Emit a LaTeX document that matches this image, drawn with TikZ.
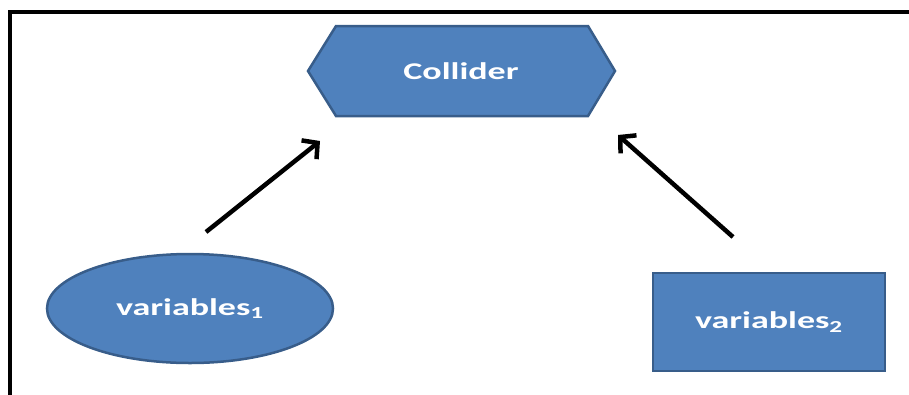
\documentclass[tikz,border=0pt]{standalone}
\usepackage{fontspec}
\setmainfont{Carlito}
\usetikzlibrary{shapes.geometric,arrows.meta}
\definecolor{boxblue}{HTML}{4F81BD}
\definecolor{boxedge}{HTML}{385D8A}
\tikzset{
	blueshape/.style={fill=boxblue, draw=boxedge, line width=2.5pt, text=white, font=\fontsize{24}{28}\selectfont\bfseries},
	link/.style={line width=4.5pt, -{Straight Barb[length=11pt, width=24pt, line width=4.5pt]}}
}
\newcommand{\wide}[1]{\scalebox{1.5}[1]{#1}}

\begin{document}
\begin{tikzpicture}[x=1pt, y=-1pt]
		%%%%% START %%%%%
		
		\useasboundingbox (0, 0) rectangle (909, 394);
		\draw[line width=4pt] (10, 400) -- (10, 12) -- (920, 12);
		
		\draw[blueshape] (308, 71) -- (336, 26) -- (588, 26) -- (615, 71) -- (588, 116) -- (336, 116) -- cycle;
		\node[text=white, font=\fontsize{24}{28}\selectfont\bfseries] (collider) at (461, 71) {\wide{Collider}};
		
		\node[blueshape, ellipse, minimum width=286, minimum height=109, inner sep=0pt] (var1) at (190, 308.5) {\wide{variables\textsubscript{1}}};
		\node[blueshape, rectangle, minimum width=232, minimum height=98, inner sep=0pt] (var2) at (769, 322) {\wide{variables\textsubscript{2}}};
		
		\coordinate (tail1) at (206, 232);
		\coordinate (head1) at (320, 141);
		\coordinate (tail2) at (733, 237);
		\coordinate (head2) at (618, 135);
		\draw[link] (tail1) -- (head1);
		\draw[link] (tail2) -- (head2);
		
		%%%%% END %%%%%
\end{tikzpicture}
\end{document}
